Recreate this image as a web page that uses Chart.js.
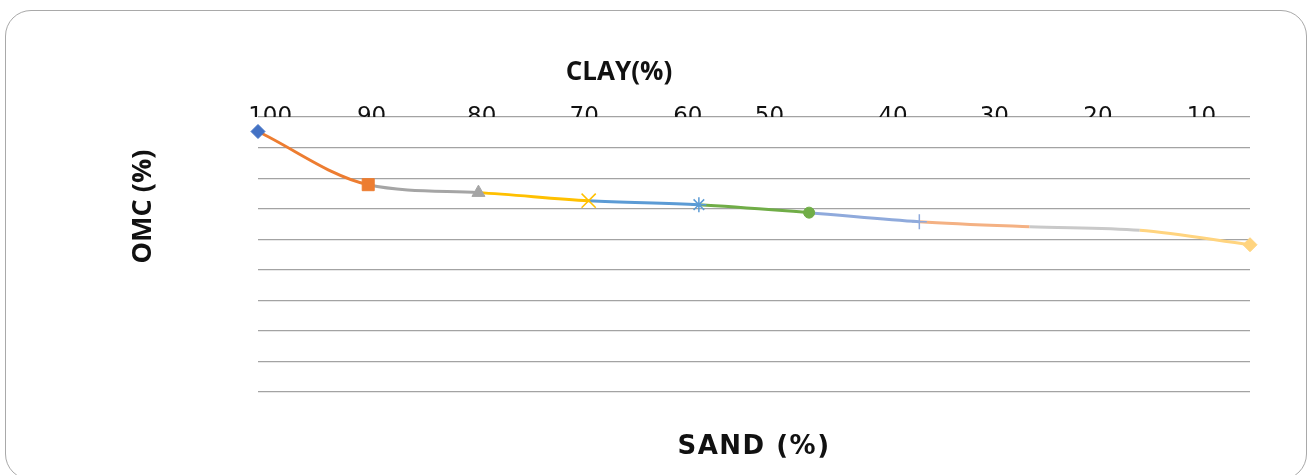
<!DOCTYPE html>
<html>
<head>
<meta charset="utf-8">
<title>OMC vs soil composition</title>
<script src="https://cdn.jsdelivr.net/npm/chart.js@4.4.1/dist/chart.umd.min.js"></script>
<style>
  html, body { margin: 0; padding: 0; background: #ffffff; }
  body { width: 1312px; height: 475px; position: relative; overflow: hidden; }
  #frame {
    position: absolute; left: 5px; top: 10px;
    width: 1300px; height: 468px;
    border: 1.5px solid #a9a9a9; border-radius: 26px;
  }
  #wrap { position: absolute; left: 0; top: 0; width: 1312px; height: 475px; }
</style>
</head>
<body>
<div id="frame"></div>
<div id="wrap"><canvas id="chart" width="1312" height="475"></canvas></div>
<script>
// Sand content of each mix (%) and the matching clay content labels (%)
const sandPct = [0, 10, 20, 30, 40, 50, 60, 70, 80, 90];
const clayLabels = ['100', '90', '80', '70', '60', '50', '40', '30', '20', '10'];
// Optimum moisture content measured for each mix (%)
const omcPct = [17.05, 13.57, 13.05, 12.52, 12.26, 11.74, 11.15, 10.82, 10.58, 9.64];

// One colour per mix; each curve piece takes the colour of the mix it ends on
const mixColors = ['#4472C4', '#ED7D31', '#A5A5A5', '#FFC000', '#5B9BD5',
                   '#70AD47', '#8FAADC', '#F4B183', '#C9C9C9', '#FFD47F'];
const mixMarkers = ['rectRot', 'rect', 'triangle', 'crossRot', 'star',
                    'circle', 'cross', 'line', 'line', 'rectRot'];
const markerSizes = [7, 8.5, 7.5, 10, 7.5, 5.5, 7.5, 0, 0, 7];

// Where the clay labels sit along the sand axis
const clayLabelAt = [1.1, 10.3, 20.3, 29.6, 39.0, 46.4, 57.6, 66.8, 76.2, 85.6];

// Moves an axis title away from its default spot (and optionally spaces its letters)
function placeTitle(dx, dy, spacing) {
  return function (scale) {
    const base = Object.getPrototypeOf(scale).drawTitle;
    scale.drawTitle = function () {
      const ctx = this.ctx;
      ctx.save();
      ctx.translate(dx, dy);
      if (spacing) ctx.letterSpacing = spacing;
      base.call(this);
      ctx.restore();
    };
  };
}

const strokeOnly = new Set(['crossRot', 'star', 'cross', 'line']);

new Chart(document.getElementById('chart'), {
  type: 'line',
  data: {
    datasets: [{
      label: 'OMC',
      data: sandPct.map((s, i) => ({ x: s, y: omcPct[i] })),
      borderWidth: 3,
      cubicInterpolationMode: 'monotone',
      clip: false,
      segment: {
        borderColor: ctx => mixColors[ctx.p1DataIndex]
      },
      pointStyle: mixMarkers,
      pointRadius: markerSizes,
      pointHoverRadius: markerSizes,
      pointBackgroundColor: mixColors.map((c, i) => strokeOnly.has(mixMarkers[i]) ? 'rgba(0,0,0,0)' : c),
      pointBorderColor: mixColors,
      pointBorderWidth: mixMarkers.map(m => strokeOnly.has(m) ? 1.5 : 1)
    }]
  },
  options: {
    responsive: false,
    animation: false,
    devicePixelRatio: 1,
    layout: { padding: { left: 0, right: 62, top: 0, bottom: 0 } },
    plugins: { legend: { display: false }, tooltip: { enabled: false } },
    scales: {
      x: {
        type: 'linear',
        position: 'bottom',
        min: 0, max: 90,
        grid: { display: false, drawTicks: false },
        border: { display: false },
        ticks: { display: false },
        title: {
          display: true,
          text: 'SAND (%)',
          color: '#111111',
          font: { family: 'DejaVu Sans', size: 26, weight: 'bold' },
          padding: { top: 0, bottom: 12 }
        },
        afterFit: scale => { scale.height = 83; placeTitle(0, 0, '1.5px')(scale); }
      },
      clay: {
        type: 'linear',
        position: 'top',
        min: 0, max: 90,
        grid: { display: false, drawTicks: false },
        border: { display: false },
        afterBuildTicks: scale => { scale.ticks = clayLabelAt.map(v => ({ value: v })); },
        ticks: {
          autoSkip: false,
          maxRotation: 0,
          padding: -14,
          color: '#111111',
          font: { family: 'DejaVu Sans', size: 23 },
          callback: (v, i) => clayLabels[i]
        },
        title: {
          display: true,
          text: 'CLAY(%)',
          color: '#111111',
          font: { family: 'Open Sans', size: 26, weight: 'bold' },
          padding: { top: 57, bottom: 0 }
        },
        afterFit: scale => { scale.height = 117; placeTitle(-135, 0)(scale); }
      },
      y: {
        min: 0, max: 18,
        grid: { color: '#a3a3a3', lineWidth: 1.2, drawTicks: false },
        border: { display: false },
        ticks: { display: false, stepSize: 2 },
        title: {
          display: true,
          text: 'OMC (%)',
          color: '#111111',
          font: { family: 'Open Sans', size: 27, weight: 'bold' },
          padding: { top: 127, bottom: 0 }
        },
        afterFit: scale => { scale.width = 258; placeTitle(0, -48)(scale); }
      }
    }
  }
});
</script>
</body>
</html>
